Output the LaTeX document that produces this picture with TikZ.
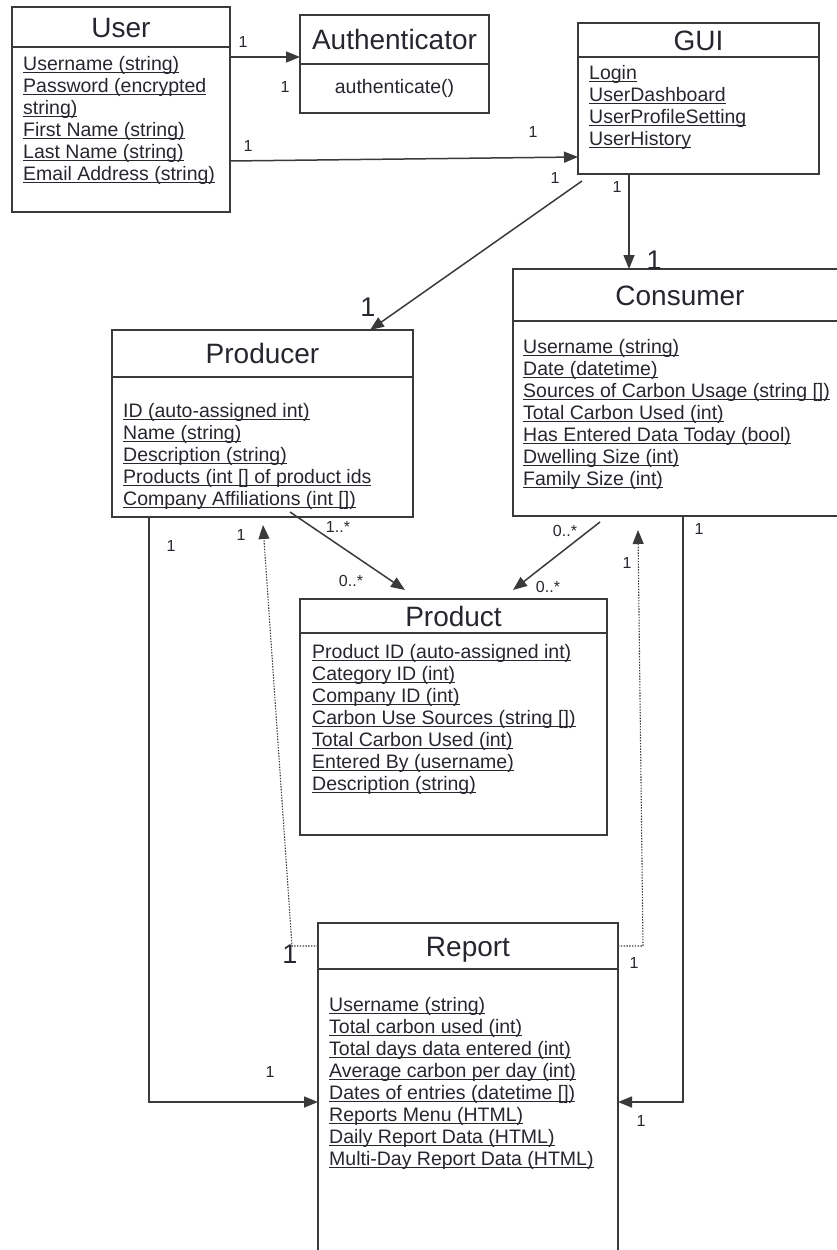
\documentclass[tikz,border=0pt]{standalone}
\usepackage{fontspec}
\setmainfont{Liberation Sans}
\usetikzlibrary{arrows.meta,calc}
\definecolor{ink}{HTML}{26262E}
\definecolor{edge}{HTML}{3A3A3A}
\newcommand{\attr}[1]{\setbox0\hbox{#1}\rlap{\rule[-2.8pt]{\wd0}{1.1pt}}\box0}
\begin{document}
\begin{tikzpicture}[x=1pt,y=-1pt,
  box/.style={draw=edge,line width=1.5pt,anchor=north west,inner sep=0pt,outer sep=0pt},
  sepline/.style={draw=edge,line width=1.5pt},
  title/.style={font=\fontsize{28}{30}\selectfont,text height=20pt,text depth=0pt,inner sep=0pt,anchor=center,text=ink},
  attrs/.style={font=\fontsize{19.5}{22}\selectfont,align=left,anchor=north west,inner sep=0pt,text=ink},
  meth/.style={font=\fontsize{19.5}{22}\selectfont,inner sep=0pt,text=ink},
  mult/.style={font=\fontsize{16}{16}\selectfont,inner sep=0pt,text=ink},
  bigmult/.style={font=\fontsize{27}{27}\selectfont,inner sep=0pt,text=ink},
  conn/.style={draw=edge,line width=1.5pt,-{Triangle[length=14pt,width=11pt]}},
  dots/.style={draw=edge,line width=1.1pt,dash pattern=on 1.4pt off 1.4pt,-{Triangle[length=14pt,width=11pt]}}
]
\useasboundingbox (0,0) rectangle (836,1250);

% ---------- boxes ----------
\node[box,minimum width=218pt,minimum height=205pt] (user) at (12,7) {};
\draw[sepline] ($(user.north west)+(0,40)$) -- ($(user.north east)+(0,40)$);
\node[title] (usert) at (121,27) {User};
\node[attrs] (usera) at (23,56) {\attr{Username (string)}\\\attr{Password (encrypted}\\\attr{string)}\\\attr{First Name (string)}\\\attr{Last Name (string)}\\\attr{Email Address (string)}};

\node[box,minimum width=189pt,minimum height=98pt] (auth) at (300,15) {};
\draw[sepline] ($(auth.north west)+(0,49)$) -- ($(auth.north east)+(0,49)$);
\node[title] (autht) at (394.5,39.5) {Authenticator};
\node[meth] (authm) at (394.5,88) {authenticate()};

\node[box,minimum width=241pt,minimum height=151pt] (gui) at (578,23) {};
\draw[sepline] ($(gui.north west)+(0,34)$) -- ($(gui.north east)+(0,34)$);
\node[title] (guit) at (698.5,40) {GUI};
\node[attrs] (guia) at (589,65) {\attr{Login}\\\attr{UserDashboard}\\\attr{UserProfileSetting}\\\attr{UserHistory}};

\node[box,minimum width=301pt,minimum height=187pt] (producer) at (112,330) {};
\draw[sepline] ($(producer.north west)+(0,47)$) -- ($(producer.north east)+(0,47)$);
\node[title] (producert) at (262.5,353.5) {Producer};
\node[attrs] (producera) at (123,403) {\attr{ID (auto-assigned int)}\\\attr{Name (string)}\\\attr{Description (string)}\\\attr{Products (int [] of product ids}\\\attr{Company Affiliations (int [])}};

\node[box,minimum width=334pt,minimum height=247pt] (consumer) at (513,269) {};
\draw[sepline] ($(consumer.north west)+(0,52)$) -- ($(consumer.north east)+(0,52)$);
\node[title] (consumert) at (680,295) {Consumer};
\node[attrs] (consumera) at (523,339) {\attr{Username (string)}\\\attr{Date (datetime)}\\\attr{Sources of Carbon Usage (string [])}\\\attr{Total Carbon Used (int)}\\\attr{Has Entered Data Today (bool)}\\\attr{Dwelling Size (int)}\\\attr{Family Size (int)}};

\node[box,minimum width=307pt,minimum height=236pt] (product) at (300,599) {};
\draw[sepline] ($(product.north west)+(0,34)$) -- ($(product.north east)+(0,34)$);
\node[title] (productt) at (453.5,616) {Product};
\node[attrs] (producta) at (312,644) {\attr{Product ID (auto-assigned int)}\\\attr{Category ID (int)}\\\attr{Company ID (int)}\\\attr{Carbon Use Sources (string [])}\\\attr{Total Carbon Used (int)}\\\attr{Entered By (username)}\\\attr{Description (string)}};

\node[box,minimum width=300pt,minimum height=400pt] (report) at (318,923) {};
\draw[sepline] ($(report.north west)+(0,46)$) -- ($(report.north east)+(0,46)$);
\node[title] (reportt) at (468,946) {Report};
\node[attrs] (reporta) at (329,997) {\attr{Username (string)}\\\attr{Total carbon used (int)}\\\attr{Total days data entered (int)}\\\attr{Average carbon per day (int)}\\\attr{Dates of entries (datetime [])}\\\attr{Reports Menu (HTML)}\\\attr{Daily Report Data (HTML)}\\\attr{Multi-Day Report Data (HTML)}};

% ---------- connectors ----------
\draw[conn] ($(user.north east)+(0,50)$) -- ($(auth.north west)+(0,42)$);
\draw[conn] ($(user.north east)+(0,154)$) -- ($(gui.north west)+(0,134)$);
\draw[conn] ($(gui.south west)+(4,7)$) -- ($(producer.north west)+(258,0)$);
\draw[conn] ($(gui.south west)+(51,0)$) -- ($(consumer.north west)+(116,0)$);
\draw[conn] ($(producer.south west)+(178,-5)$) -- ($(product.north west)+(105,-9)$);
\draw[conn] ($(consumer.south west)+(87,6)$) -- ($(product.north west)+(213,-9)$);
\draw[conn] ($(producer.south west)+(37,0)$) |- ($(report.north west)+(0,179)$);
\draw[conn] ($(consumer.south west)+(170,0)$) |- ($(report.north east)+(0,179)$);
\coordinate (dl) at ($(report.north west)+(-26,23)$);
\coordinate (dr) at ($(report.north east)+(25,23)$);
\draw[dots] ($(report.north west)+(0,23)$) -- (dl) -- ($(producer.south west)+(151,8)$);
\draw[dots] ($(report.north east)+(0,23)$) -- (dr) -- ($(consumer.south west)+(125,14)$);

% ---------- multiplicities ----------
\node[mult] (m1) at (243,42) {1};
\node[mult] (m2) at (285,87) {1};
\node[mult] (m3) at (248,146) {1};
\node[mult] (m4) at (533,132) {1};
\node[mult] (m5) at (555,178) {1};
\node[mult] (m6) at (617,187) {1};
\node[bigmult] (m7) at (654,260) {1};
\node[bigmult] (m8) at (368,307) {1};
\node[mult] (m9) at (338,527) {1..*};
\node[mult] (m10) at (351,581) {0..*};
\node[mult] (m11) at (565,531) {0..*};
\node[mult] (m12) at (548,587) {0..*};
\node[mult] (m13) at (171,546) {1};
\node[mult] (m14) at (241,535) {1};
\node[mult] (m15) at (627,563) {1};
\node[mult] (m16) at (699,529) {1};
\node[mult] (m17) at (270,1072) {1};
\node[bigmult] (m18) at (290,954) {1};
\node[mult] (m19) at (634,963) {1};
\node[mult] (m20) at (641,1121) {1};
\end{tikzpicture}
\end{document}
